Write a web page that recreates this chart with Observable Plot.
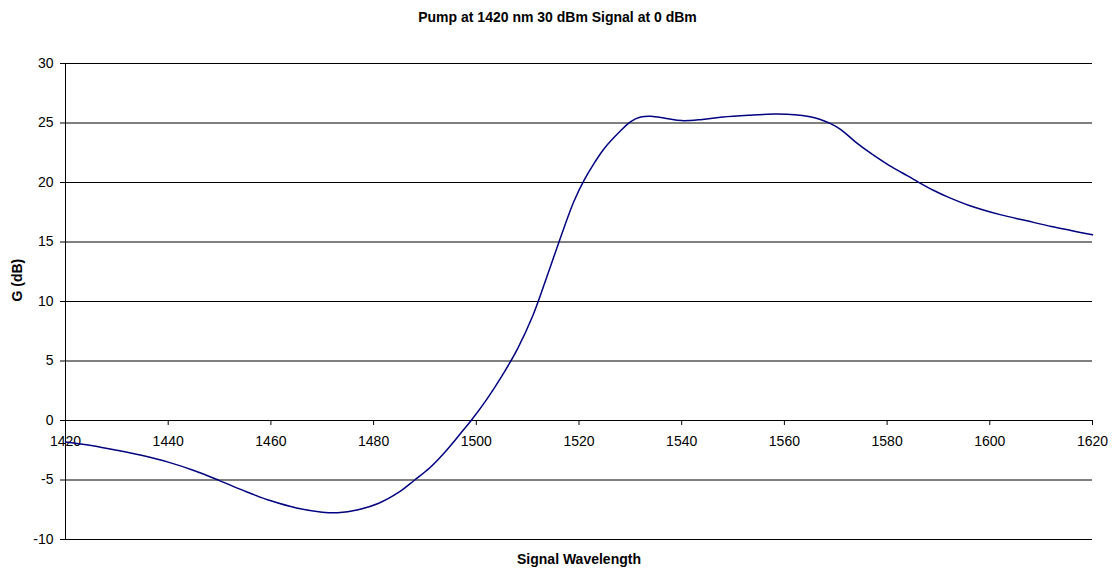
<!DOCTYPE html>
<html>
<head>
<meta charset="utf-8">
<script src="https://cdn.jsdelivr.net/npm/d3@7"></script>
<script src="https://cdn.jsdelivr.net/npm/@observablehq/plot@0.6"></script>
<style>
  body { margin: 0; background: #fff; font-family: "Liberation Sans", Arial, sans-serif; }
  #title { height: 40px; box-sizing: border-box; padding-top: 9px; line-height: 16px; font-size: 14px; font-weight: bold; text-align: center; width: 1115px; color: #000; }
</style>
</head>
<body>
<div id="title"></div>
<div id="chart"></div>
<script>
const titleText = "Pump at 1420 nm 30 dBm Signal at 0 dBm";
const xLabel = "Signal Wavelength";
const yLabel = "G (dB)";

const wavelength = [1420, 1425, 1430, 1435, 1440, 1445, 1450, 1455, 1460, 1465, 1470, 1473, 1477, 1481, 1485, 1488, 1491, 1494, 1497, 1499, 1502, 1505, 1508, 1511, 1514, 1517, 1519, 1521, 1523, 1525, 1528, 1530, 1532, 1534, 1537, 1540, 1544, 1548, 1553, 1558, 1562, 1565, 1567, 1569, 1571, 1574, 1577, 1580, 1583, 1586, 1589, 1592, 1596, 1602, 1607, 1612, 1616, 1620];
const gain = [-1.8, -2.1, -2.5, -2.95, -3.5, -4.2, -5.05, -5.95, -6.75, -7.35, -7.7, -7.75, -7.5, -6.95, -6.0, -5.0, -3.95, -2.6, -1.05, 0, 1.75, 3.75, 6.0, 8.8, 12.4, 16.1, 18.4, 20.2, 21.65, 22.9, 24.3, 25.1, 25.5, 25.57, 25.38, 25.2, 25.3, 25.5, 25.65, 25.75, 25.7, 25.52, 25.3, 24.95, 24.45, 23.35, 22.4, 21.55, 20.8, 20.05, 19.35, 18.75, 18.07, 17.3, 16.8, 16.3, 15.95, 15.6];

const xTicks = [1420, 1440, 1460, 1480, 1500, 1520, 1540, 1560, 1580, 1600, 1620];
const yTicks = [-10, -5, 0, 5, 10, 15, 20, 25, 30];

const data = wavelength.map((w, i) => ({w, g: gain[i]}));

document.getElementById("title").textContent = titleText;

const chart = Plot.plot({
  width: 1115,
  height: 535,
  marginTop: 23,
  marginBottom: 36,
  marginLeft: 65,
  marginRight: 23,
  style: {fontFamily: "'Liberation Sans', Arial, sans-serif", fontSize: "14px", color: "#000", background: "#fff"},
  x: {domain: [1420, 1620], axis: null},
  y: {domain: [-10, 30], axis: null},
  marks: [
    Plot.ruleY(yTicks, {stroke: "#000", strokeWidth: 1}),
    Plot.ruleX([1420], {y1: -10, y2: 30, stroke: "#000"}),
    Plot.axisY({ticks: yTicks, tickSize: 5, tickPadding: 7, tickFormat: d => String(d), label: null, fontSize: 14, stroke: "#000"}),
    Plot.ruleX(xTicks, {x: d => d, y1: 0, y2: -0.42, stroke: "#000"}),
    Plot.text(xTicks, {x: d => d, y: 0, dy: 21.5, text: d => String(d), fontSize: 14, fill: "#000"}),
    Plot.line(data, {x: "w", y: "g", stroke: "#000080", strokeWidth: 1.5, curve: "catmull-rom"}),
    Plot.text([yLabel], {frameAnchor: "left", rotate: -90, dx: -48, text: d => d, fontSize: 14, fontWeight: "bold", fill: "#000"}),
    Plot.text([xLabel], {frameAnchor: "bottom", dy: 24, text: d => d, fontSize: 14, fontWeight: "bold", fill: "#000"})
  ]
});
document.getElementById("chart").appendChild(chart);
</script>
</body>
</html>
